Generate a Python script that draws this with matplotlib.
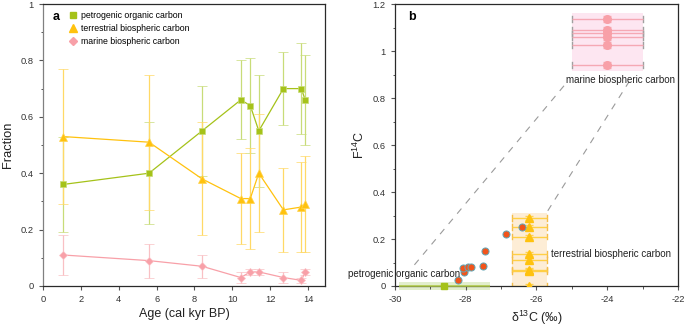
import matplotlib
matplotlib.use("Agg")
import matplotlib.pyplot as plt
from matplotlib.patches import Rectangle
from matplotlib.lines import Line2D

plt.rcParams['font.family'] = ['Liberation Sans', 'DejaVu Sans']
plt.rcParams['axes.unicode_minus'] = False
plt.rcParams['mathtext.fontset'] = 'custom'
plt.rcParams['mathtext.rm'] = 'Liberation Sans'

# ---- Panel a data ----
age = [1.05, 5.6, 8.4, 10.45, 10.95, 11.4, 12.7, 13.65, 13.85]
petro = [0.36, 0.40, 0.55, 0.66, 0.64, 0.55, 0.70, 0.70, 0.66]
petro_err = [0.17, 0.18, 0.16, 0.14, 0.17, 0.20, 0.13, 0.16, 0.16]
terr = [0.53, 0.51, 0.38, 0.31, 0.31, 0.40, 0.27, 0.28, 0.29]
terr_err = [0.24, 0.24, 0.20, 0.16, 0.18, 0.21, 0.15, 0.16, 0.17]
marine = [0.11, 0.09, 0.07, 0.03, 0.05, 0.05, 0.03, 0.02, 0.05]
marine_err = [0.07, 0.06, 0.04, 0.02, 0.01, 0.01, 0.02, 0.01, 0.01]
legend_labels = ['petrogenic organic carbon', 'terrestrial biospheric carbon',
                 'marine biospheric carbon']

# ---- Panel b data ----
sample_d13c = [-28.22, -28.05, -28.08, -27.94, -27.85, -27.51, -27.45, -26.85, -26.40]
sample_f14c = [0.026, 0.061, 0.078, 0.081, 0.080, 0.087, 0.149, 0.223, 0.252]

marine_d13c = -24.0
marine_f14c = [1.135, 1.09, 1.075, 1.06, 1.025, 0.94]
marine_box = (-25.0, -23.0, 0.915, 1.16)

terr_d13c = -26.2
terr_f14c = [0.29, 0.25, 0.21, 0.135, 0.11, 0.07, 0.065, 0.0]
terr_box = (-26.7, -25.7, 0.0, 0.31)

petro_d13c = -28.6
petro_f14c = 0.0
petro_box = (-29.9, -27.3, -0.017, 0.018)

mix1_x = [-29.45, -25.15]
mix1_y = [0.09, 0.865]
mix2_x = [-25.68, -23.38]
mix2_y = [0.32, 0.87]

GREEN = '#a5c219'
GREEN_E = '#c8dc78'
YELLOW = '#ffc20e'
YELLOW_E = '#ffd966'
PINK = '#f8a0a8'
PINK_E = '#f9c0c4'
SPINE = '#2a2a2a'
TXT = '#222222'

fig = plt.figure(figsize=(6.85, 3.26), dpi=100)
axa = fig.add_axes([0.0628, 0.1227, 0.4117, 0.865])
axb = fig.add_axes([0.5766, 0.1227, 0.4131, 0.865])

for ax in (axa, axb):
    for s in ax.spines.values():
        s.set_color(SPINE)
        s.set_linewidth(0.9)
    ax.tick_params(direction='out', length=2.7, width=0.8, colors='#555555', labelsize=6.7,
                   labelcolor='#333333', top=False, right=False, pad=4)
    ax.tick_params(which='minor', direction='out', length=1.8, width=0.7, colors='#555555')
axa.spines['left'].set_color('#808080')

# Panel a
ekw = dict(capsize=3.6, elinewidth=0.9, capthick=0.9, lw=0.9)
axa.errorbar(age, petro, yerr=petro_err, color=GREEN, ecolor=GREEN_E, marker='s', ms=5,
             mec='#c8dc78', mew=0.5, zorder=3, **ekw)
axa.errorbar(age, terr, yerr=terr_err, color=YELLOW, ecolor=YELLOW_E, marker='^', ms=6,
             mec='#ffd34d', mew=0.5, zorder=3, **ekw)
axa.errorbar(age, marine, yerr=marine_err, color=PINK, ecolor=PINK_E, marker='D', ms=4,
             mec='#fbc4c8', mew=0.5, zorder=3, **ekw)
axa.set_xlim(0, 14.9)
axa.set_ylim(0, 1)
axa.set_xticks([0, 2, 4, 6, 8, 10, 12, 14])
axa.set_yticks([0, 0.2, 0.4, 0.6, 0.8, 1.0])
axa.set_yticklabels(['0', '0.2', '0.4', '0.6', '0.8', '1'])
axa.set_yticks([0.1, 0.3, 0.5, 0.7, 0.9], minor=True)
axa.set_xlabel('Age (cal kyr BP)', fontsize=9, color=TXT, labelpad=3)
axa.set_ylabel('Fraction', fontsize=9.3, color=TXT, labelpad=5)
hh = [Line2D([], [], ls='none', marker='s', color=GREEN, ms=5),
      Line2D([], [], ls='none', marker='^', color=YELLOW, ms=6),
      Line2D([], [], ls='none', marker='D', color=PINK, ms=4)]
axa.legend(hh, legend_labels, loc='upper left', bbox_to_anchor=(0.074, 0.9865), frameon=False,
           fontsize=6.3, handletextpad=0.3, labelspacing=0.45, handlelength=1.2,
           borderaxespad=0)
axa.text(0.034, 0.954, 'a', transform=axa.transAxes, fontsize=9, fontweight='bold', va='center')

# Panel b
def box(ax, b, fc):
    x0, x1, y0, y1 = b
    ax.add_patch(Rectangle((x0, y0), x1 - x0, y1 - y0, fc=fc, ec='none',
                           zorder=1, clip_on=False))

box(axb, marine_box, '#fde6f1')
box(axb, terr_box, '#fdedd6')
box(axb, petro_box, '#e2eecd')

hx_m = (marine_box[1] - marine_box[0]) / 2
axb.errorbar([marine_d13c] * len(marine_f14c), marine_f14c, xerr=hx_m, ls='none',
             marker='o', ms=5.5, color=PINK, mec=PINK, ecolor='#f5a8b4', elinewidth=1.0,
             capsize=0, zorder=3)
axb.errorbar([marine_d13c] * len(marine_f14c), marine_f14c, yerr=0.012, ls='none',
             marker='none', ecolor='#f7b3ba', elinewidth=0.9, capsize=3, zorder=3)
for y in marine_f14c:
    axb.plot([marine_box[0], marine_box[0]], [y - 0.012, y + 0.012], color='#a0a0a0', lw=1, zorder=2)
    axb.plot([marine_box[1], marine_box[1]], [y - 0.012, y + 0.012], color='#a0a0a0', lw=1, zorder=2)

hx_t = (terr_box[1] - terr_box[0]) / 2
axb.errorbar([terr_d13c] * len(terr_f14c), terr_f14c, xerr=hx_t, ls='none',
             marker='^', ms=5.5, color=YELLOW, ecolor='#ffcf45', elinewidth=1.0, capsize=0, zorder=3)
axb.errorbar([terr_d13c] * len(terr_f14c), terr_f14c, yerr=0.008, ls='none',
             marker='none', ecolor='#ffd24d', elinewidth=0.9, capsize=3, zorder=3)
for y in terr_f14c:
    axb.plot([terr_box[0], terr_box[0]], [y - 0.012, y + 0.012], color='#f4bc4a', lw=1, zorder=2)
    axb.plot([terr_box[1], terr_box[1]], [y - 0.012, y + 0.012], color='#f4bc4a', lw=1, zorder=2)

axb.errorbar([petro_d13c], [petro_f14c], xerr=[[petro_d13c - petro_box[0]], [petro_box[1] - petro_d13c]],
             ls='none', marker='s', ms=4.5, color=GREEN, ecolor='#b5cf4a', elinewidth=1.1,
             capsize=0, zorder=3, clip_on=False)

axb.plot(mix1_x, mix1_y, color='#9a9a9a', lw=0.8, ls=(0, (6, 6)), zorder=2)
axb.plot(mix2_x, mix2_y, color='#9a9a9a', lw=0.8, ls=(0, (6, 6)), zorder=2)

axb.scatter(sample_d13c, sample_f14c, s=26, c='#f2541b', edgecolors='#5fa8b8', linewidths=0.7,
            zorder=5)

axb.text(-23.62, 0.876, 'marine biospheric carbon', fontsize=7, ha='center', va='center', color=TXT)
axb.text(-25.59, 0.136, 'terrestrial biospheric carbon', fontsize=7, ha='left', va='center', color=TXT)
axb.text(-31.33, 0.051, 'petrogenic organic carbon', fontsize=7, ha='left', va='center', color=TXT,
         zorder=6, clip_on=False)

axb.set_xlim(-30, -22)
axb.set_ylim(0, 1.2)
axb.set_xticks([-30, -28, -26, -24, -22])
axb.set_xticks([-29, -27, -25, -23], minor=True)
axb.set_yticks([0, 0.2, 0.4, 0.6, 0.8, 1.0, 1.2])
axb.set_yticklabels(['0', '0.2', '0.4', '0.6', '0.8', '1', '1.2'])
axb.set_yticks([0.1, 0.3, 0.5, 0.7, 0.9, 1.1], minor=True)
axb.set_xlabel('δ$^{13}$C (‰)', fontsize=9, color=TXT, labelpad=3)
axb.set_ylabel('F$^{14}$C', fontsize=9, color=TXT, labelpad=4)
axb.text(0.046, 0.954, 'b', transform=axb.transAxes, fontsize=9, fontweight='bold', va='center')

fig.savefig('out.png', dpi=100)
